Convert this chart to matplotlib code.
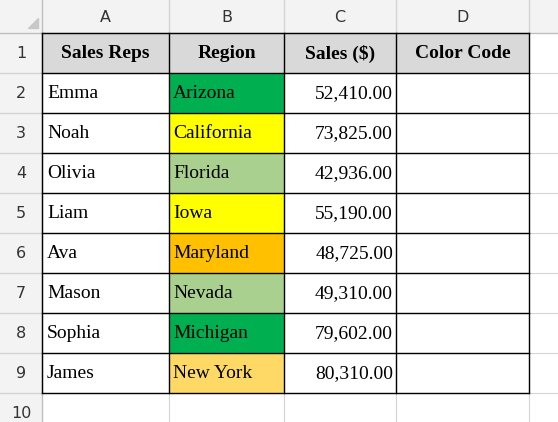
import matplotlib.pyplot as plt
from matplotlib.patches import Rectangle

reps = ["Emma", "Noah", "Olivia", "Liam", "Ava", "Mason", "Sophia", "James"]
regions = ["Arizona", "California", "Florida", "Iowa", "Maryland", "Nevada", "Michigan", "New York"]
sales = [52410, 73825, 42936, 55190, 48725, 49310, 79602, 80310]
region_colors = ["#00B050", "#FFFF00", "#A9D08E", "#FFFF00", "#FFC000", "#A9D08E", "#00B050", "#FFD966"]
headers = ["Sales Reps", "Region", "Sales ($)", "Color Code"]
col_letters = ["A", "B", "C", "D"]

W, H = 558, 422
col_x = [42, 169, 284, 396, 529]
row_top = 33
row_h = 40

fig = plt.figure(figsize=(W / 100, H / 100), dpi=100)
ax = fig.add_axes([0, 0, 1, 1])
ax.set_xlim(0, W)
ax.set_ylim(H, 0)
ax.axis("off")

serif = "Liberation Serif"
sans = "DejaVu Sans"
grid = "#D4D4D4"

# sheet header strip and row number column
ax.add_patch(Rectangle((0, 0), W, row_top, facecolor="#F3F3F3", edgecolor="none"))
ax.add_patch(Rectangle((0, 0), col_x[0], H, facecolor="#F3F3F3", edgecolor="none"))
ax.plot([0, W], [row_top, row_top], color="#BFBFBF", lw=1)
ax.plot([col_x[0], col_x[0]], [0, H], color="#BFBFBF", lw=1)
ax.add_patch(Rectangle((0, 0), col_x[0], row_top, facecolor="#F3F3F3", edgecolor="none"))
ax.fill([28, 38, 38], [28, 28, 18], color="#C8C8C8")

for i, letter in enumerate(col_letters):
    cx = (col_x[i] + col_x[i + 1]) / 2
    ax.text(cx, row_top / 2 + 1, letter, ha="center", va="center", fontsize=11.5, family=sans, color="#333333")
    ax.plot([col_x[i + 1], col_x[i + 1]], [0, row_top], color=grid, lw=1)

for r in range(10):
    y0 = row_top + r * row_h
    ax.text(col_x[0] / 2, y0 + row_h / 2 + 1, str(r + 1), ha="center", va="center", fontsize=11.5, family=sans, color="#333333")
    ax.plot([0, col_x[0]], [y0 + row_h, y0 + row_h], color=grid, lw=1)
    ax.plot([col_x[0], W], [y0 + row_h, y0 + row_h], color=grid, lw=0.8)
for x in col_x[1:]:
    ax.plot([x, x], [row_top, H], color=grid, lw=0.8)

# table header
for i, h in enumerate(headers):
    ax.add_patch(Rectangle((col_x[i], row_top), col_x[i + 1] - col_x[i], row_h, facecolor="#D9D9D9", edgecolor="none"))
    ax.text((col_x[i] + col_x[i + 1]) / 2, row_top + row_h / 2 + 1, h, ha="center", va="center",
            fontsize=14, fontweight="bold", family=serif, color="black")

# data rows
for r in range(len(reps)):
    y0 = row_top + (r + 1) * row_h
    yc = y0 + row_h / 2 + 1
    ax.add_patch(Rectangle((col_x[1], y0), col_x[2] - col_x[1], row_h, facecolor=region_colors[r], edgecolor="none"))
    ax.text(col_x[0] + 5, yc, reps[r], ha="left", va="center", fontsize=14, family=serif)
    ax.text(col_x[1] + 4, yc, regions[r], ha="left", va="center", fontsize=14, family=serif)
    ax.text(col_x[3] - 3, yc, f"{sales[r]:,.2f}", ha="right", va="center", fontsize=14, family=serif)

# table borders
n_rows = len(reps) + 1
y_end = row_top + n_rows * row_h
for r in range(n_rows + 1):
    y = row_top + r * row_h
    ax.plot([col_x[0], col_x[-1]], [y, y], color="black", lw=1)
for x in col_x:
    ax.plot([x, x], [row_top, y_end], color="black", lw=1)

fig.savefig("out.png", dpi=100)
